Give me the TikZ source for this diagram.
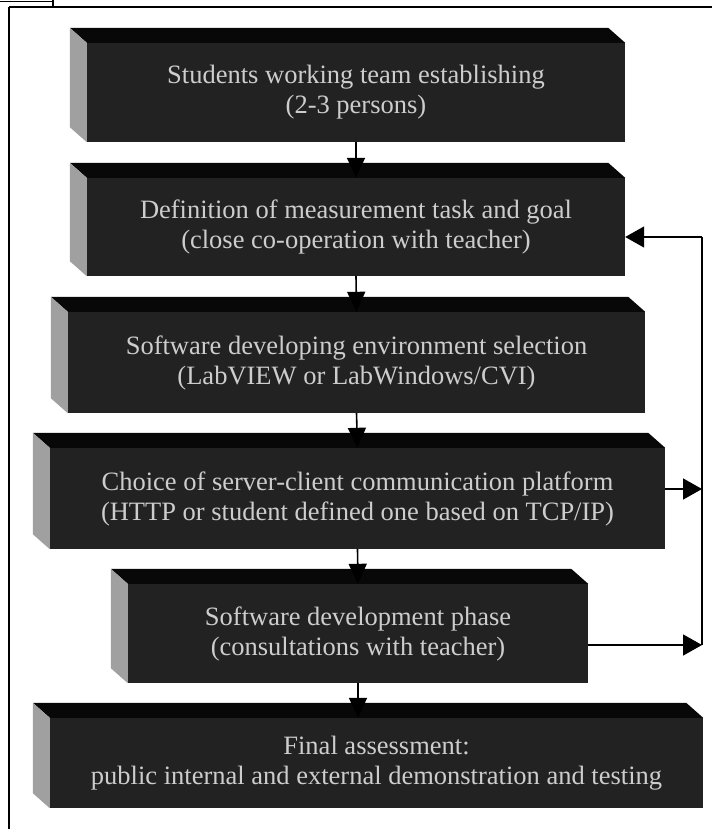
\documentclass[tikz,border=0pt]{standalone}
\usepackage{fontspec}
\setmainfont{Liberation Serif}
\usetikzlibrary{arrows.meta}
\definecolor{frontc}{RGB}{34,34,34}
\definecolor{topc}{RGB}{8,8,8}
\definecolor{sidec}{RGB}{160,160,160}
\definecolor{textc}{RGB}{205,205,205}
\tikzset{
  slab/.style={rectangle, fill=frontc, inner sep=0pt, text=textc, align=center,
    font=\fontsize{26.5}{30}\selectfont},
  flow/.style={line width=1.6pt, -{Triangle[length=20pt,width=18pt]}},
  sideflow/.style={line width=1.6pt, -{Triangle[length=19pt,width=21pt]}},
  frame/.style={line width=1.6pt},
  link/.style={line width=1.6pt}
}
\begin{document}
\begin{tikzpicture}[x=1pt,y=-1pt]
\useasboundingbox (0,0) rectangle (712,829);
% outer frame
\draw[line width=0.8pt] (0,1.5) -- (53,1.5);
\draw[frame] (53,0) -- (53,7);
\draw[frame] (9,7) -- (712,7);
\draw[frame] (9,7) -- (9,829);
% boxes (front faces)
\node[slab, minimum width=538pt, minimum height=99pt] (b1) at (356,92.5)
  {Students working team establishing\\(2-3 persons)};
\node[slab, minimum width=538pt, minimum height=98pt] (b2) at (356,227)
  {Definition of measurement task and goal\\(close co-operation with teacher)};
\node[slab, minimum width=577pt, minimum height=101pt] (b3) at (356.5,362.5)
  {Software developing environment selection\\(LabVIEW or LabWindows/CVI)};
\node[slab, minimum width=615pt, minimum height=101pt] (b4) at (357.5,498.5)
  {Choice of server-client communication platform\\(HTTP or student defined one based on TCP/IP)};
\node[slab, minimum width=460pt, minimum height=99pt] (b5) at (358,633.5)
  {Software development phase\\(consultations with teacher)};
\node[slab, minimum width=653pt, minimum height=90pt] (b6) at (376.5,763)
  {Final assessment:\\public internal and external demonstration and testing};
% 3D faces
\foreach \n in {b1,b2,b3,b4,b5,b6}{
  \fill[topc] (\n.north west) -- ([xshift=-17pt,yshift=15pt]\n.north west)
    -- ([xshift=-17pt,yshift=15pt]\n.north east) -- (\n.north east) -- cycle;
  \fill[sidec] (\n.north west) -- ([xshift=-17pt,yshift=15pt]\n.north west)
    -- ([xshift=-17pt,yshift=15pt]\n.south west) -- (\n.south west) -- cycle;
}
% main flow
\draw[flow] (b1.south) -- (b2.north);
\draw[flow] (b2.south) -- (b3.north);
\draw[flow] (b3.south) -- (b4.north);
\draw[flow] (b4.south) -- (b5.north);
\draw[flow] (b5.south) -- (b5.south |- b6.north);
% feedback loop
\coordinate (j2) at (702,237);
\coordinate (j4) at (702,489);
\coordinate (j5) at (702,645);
\draw[sideflow] (b4.east |- j4) -- (j4);
\draw[sideflow] (b5.east |- j5) -- (j5);
\draw[link] (j5) -- (j2);
\draw[sideflow] (j2) -- (b2.east |- j2);
\end{tikzpicture}
\end{document}
